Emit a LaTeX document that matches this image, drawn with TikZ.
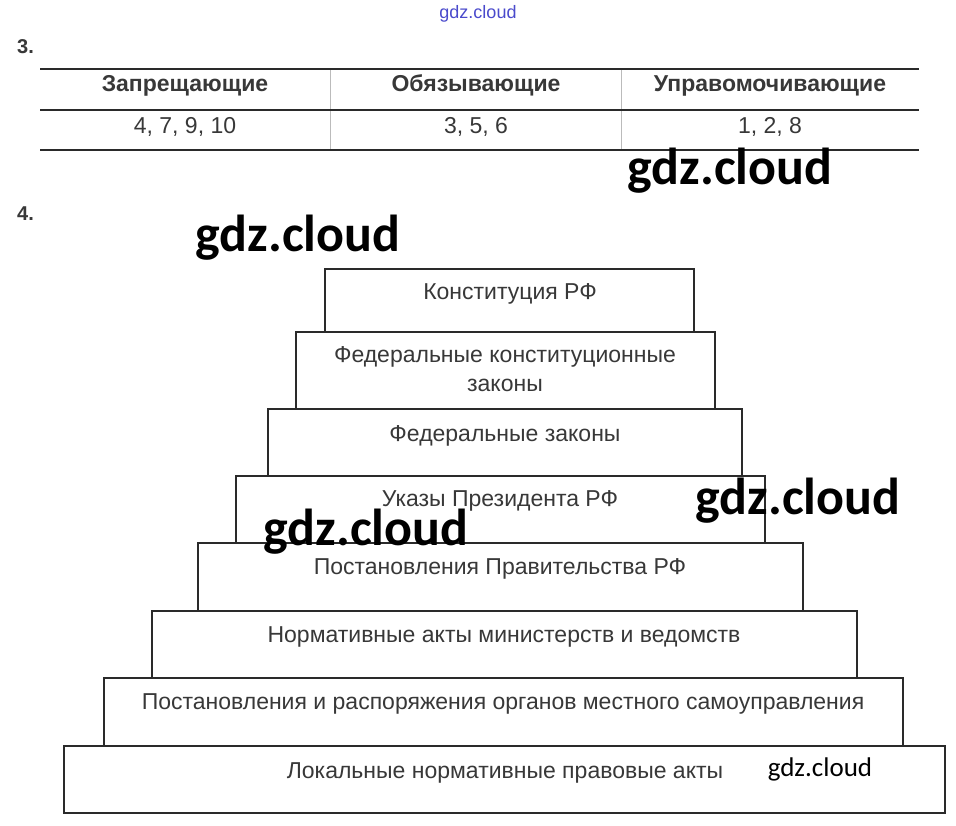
\documentclass[tikz,border=0pt]{standalone}
\usepackage{fontspec}
\setmainfont{Liberation Sans}
\newfontfamily\wmfont{Carlito}
\definecolor{txtgray}{HTML}{383838}
\definecolor{linegray}{HTML}{2A2A2A}
\definecolor{divgray}{HTML}{BBBBBB}
\definecolor{wmblue}{HTML}{4A4ACC}
\tikzset{
  tier/.style={draw=linegray, line width=1.8pt, fill=white},
  tiertext/.style={anchor=base, inner sep=0pt, text=txtgray, font=\fontsize{23}{27}\selectfont},
  headtext/.style={anchor=base, inner sep=0pt, text=txtgray, font=\fontsize{23}{27}\selectfont\bfseries},
  celltext/.style={anchor=base, inner sep=0pt, text=txtgray, font=\fontsize{23}{27}\selectfont},
  hrule/.style={draw=linegray, line width=1.1pt},
  vrule/.style={draw=divgray, line width=0.8pt},
  numlabel/.style={anchor=base west, inner sep=0pt, text=txtgray, font=\fontsize{20}{24}\selectfont\bfseries},
  wmark/.style={anchor=base, inner sep=0pt, text=black, font=\wmfont\bfseries\fontsize{52}{57}\selectfont},
  wmsmall/.style={anchor=base, inner sep=0pt, text=black, font=\wmfont\fontsize{27}{30}\selectfont},
  wmtop/.style={anchor=base, inner sep=0pt, text=wmblue, font=\fontsize{18}{20}\selectfont},
}
\begin{document}
\begin{tikzpicture}[x=1pt,y=-1pt]
\useasboundingbox[fill=white] (0,0) rectangle (956,825);
% top watermark
\node[wmtop] (wt) at (478,18) {gdz.cloud};
% 3.
\node[numlabel] (n3) at (17,53) {3.};
% table
\coordinate (tl) at (40,69);
\coordinate (tr) at (919,69);
\coordinate (ml) at (40,110);
\coordinate (mr) at (919,110);
\coordinate (bl) at (40,150);
\coordinate (br) at (919,150);
\coordinate (v1t) at (330,69);
\coordinate (v1b) at (330,150);
\coordinate (v2t) at (621,69);
\coordinate (v2b) at (621,150);
\draw[vrule] (v1t) -- (v1b);
\draw[vrule] (v2t) -- (v2b);
\draw[hrule] (tl) -- (tr);
\draw[hrule] (ml) -- (mr);
\draw[hrule] (bl) -- (br);
\node[headtext] (h1) at (185,91.5) {Запрещающие};
\node[headtext] (h2) at (476,91.5) {Обязывающие};
\node[headtext] (h3) at (770,91.5) {Управомочивающие};
\node[celltext] (c1) at (185,133.5) {4, 7, 9, 10};
\node[celltext] (c2) at (476,133.5) {3, 5, 6};
\node[celltext] (c3) at (770,133.5) {1, 2, 8};
% 4.
\node[numlabel] (n4) at (17,220) {4.};
% pyramid
\draw[tier] (64,746) rectangle (945,813);
\draw[tier] (104,678) rectangle (903,746);
\draw[tier] (152,611) rectangle (857,678);
\draw[tier] (198,543) rectangle (803,611);
\draw[tier] (236,476) rectangle (765,543);
\draw[tier] (268,409) rectangle (742,476);
\draw[tier] (296,332) rectangle (715,409);
\draw[tier] (325,269) rectangle (694,332);
\node[tiertext] (t1) at (510,299.5) {Конституция РФ};
\node[tiertext] (t2a) at (505,362.5) {Федеральные конституционные};
\node[tiertext] (t2b) at (505,391.5) {законы};
\node[tiertext] (t3) at (505,441.5) {Федеральные законы};
\node[tiertext] (t4) at (500,506.5) {Указы Президента РФ};
\node[tiertext] (t5) at (500,574.5) {Постановления Правительства РФ};
\node[tiertext] (t6) at (504,642.5) {Нормативные акты министерств и ведомств};
\node[tiertext] (t7) at (503,709.5) {Постановления и распоряжения органов местного самоуправления};
\node[tiertext] (t8) at (505,778.5) {Локальные нормативные правовые акты};
% watermarks
\node[wmark] (w1) at (730,184) {gdz.cloud};
\node[wmark] (w2) at (298,251) {gdz.cloud};
\node[wmark] (w3) at (798,514) {gdz.cloud};
\node[wmark] (w4) at (366,545) {gdz.cloud};
\node[wmsmall] (w5) at (820,776) {gdz.cloud};
\end{tikzpicture}
\end{document}
